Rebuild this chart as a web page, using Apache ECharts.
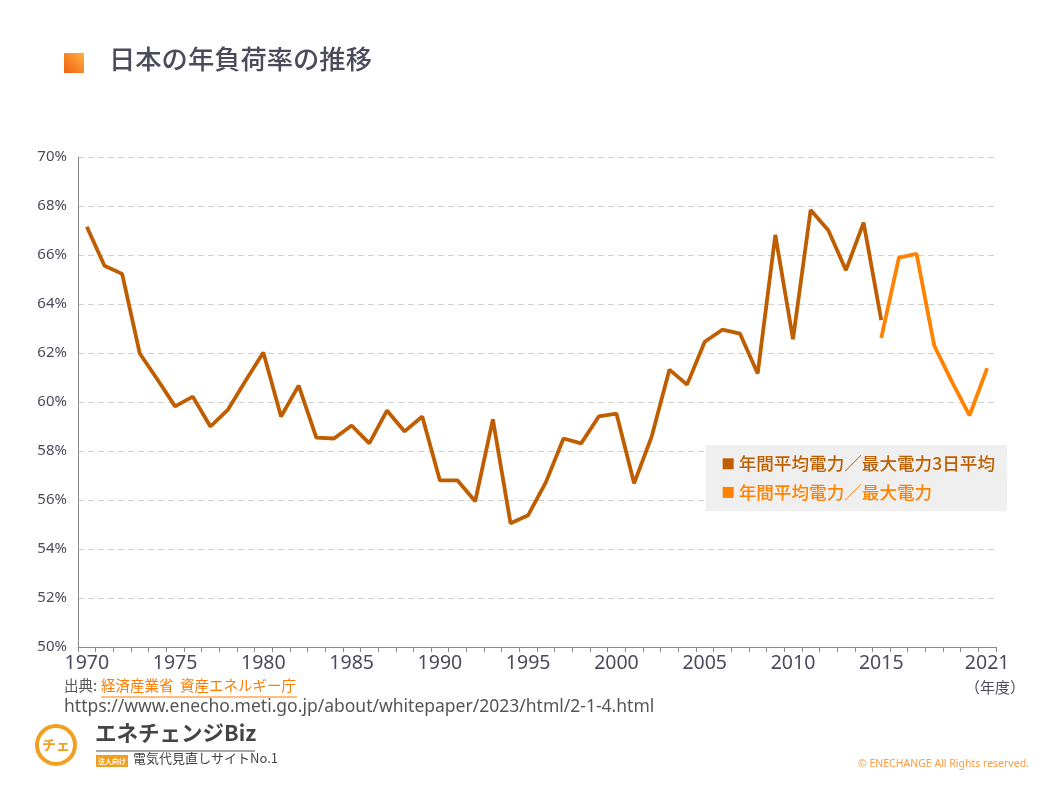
<!DOCTYPE html>
<html><head><meta charset="utf-8">
<script src="https://cdn.jsdelivr.net/npm/echarts@6/dist/echarts.min.js"></script>
<style>html,body{margin:0;padding:0;background:#fff}#c{width:1058px;height:794px}</style>
</head><body><div id="c"></div>
<script>
const years = [];
for (let y = 1970; y <= 2021; y++) years.push(String(y));
const shownLabels = ['1970','1975','1980','1985','1990','1995','2000','2005','2010','2015','2021'];
const yTicks = [50,52,54,56,58,60,62,64,66,68,70];
const loadFactor3Day = [
  67.15, 65.56, 65.23, 61.98, 60.92, 59.82, 60.22, 59.00, 59.69, 60.88,
  62.02, 59.41, 60.67, 58.55, 58.51, 59.04, 58.31, 59.65, 58.80, 59.41,
  56.80, 56.80, 55.95, 59.29, 55.05, 55.38, 56.72, 58.51, 58.31, 59.41,
  59.53, 56.68, 58.60, 61.32, 60.71, 62.46, 62.95, 62.79, 61.16, 66.82,
  62.56, 67.84, 67.01, 65.38, 67.32, 63.34,
  null, null, null, null, null, null
];
const loadFactorMax = [
  null, null, null, null, null, null, null, null, null, null,
  null, null, null, null, null, null, null, null, null, null,
  null, null, null, null, null, null, null, null, null, null,
  null, null, null, null, null, null, null, null, null, null,
  null, null, null, null, null, 62.62,
  65.89, 66.05, 62.30, 60.83, 59.45, 61.38
];
const seriesNames = ['年間平均電力／最大電力3日平均', '年間平均電力／最大電力'];
const seriesColors = ['#bf5e00', '#ff8200'];

const chart = echarts.init(document.getElementById('c'));
const txt = '#4b4b5c';
chart.setOption({
  backgroundColor: '#fff',
  animation: false,
  grid: { left: 78, right: 62, top: 157, bottom: 147 },
  legend: {
    right: 51, top: 445, orient: 'vertical', itemGap: 11,
    backgroundColor: '#efefef',
    padding: [10, 12, 10, 17],
    icon: 'rect', itemWidth: 11, itemHeight: 11,
    data: [
      { name: seriesNames[0], textStyle: { color: seriesColors[0] } },
      { name: seriesNames[1], textStyle: { color: seriesColors[1] } }
    ],
    textStyle: { fontSize: 17.6, fontFamily: 'Noto Sans CJK JP', fontWeight: 500 }
  },
  xAxis: {
    type: 'category', data: years, boundaryGap: true,
    axisLine: { lineStyle: { color: '#8a8a8a', width: 1 } },
    axisTick: { show: true, interval: 0, length: 5, lineStyle: { color: '#8a8a8a' } },
    axisLabel: {
      interval: 0, margin: 6, color: txt, fontSize: 19.5, fontFamily: 'Noto Sans',
      formatter: v => shownLabels.includes(v) ? v : ''
    },
    splitLine: { show: false }
  },
  yAxis: {
    type: 'value', min: 50, max: 70, interval: 2,
    axisLine: { show: true, lineStyle: { color: '#8a8a8a', width: 1 } },
    axisTick: { show: false },
    axisLabel: { color: txt, fontSize: 15, fontFamily: 'Noto Sans', margin: 11, formatter: v => yTicks.includes(v) ? v + '%' : '' },
    splitLine: { show: true, lineStyle: { color: '#d0d0d0', type: [6, 4], width: 1.2 } }
  },
  series: [
    { name: seriesNames[0], type: 'line', data: loadFactor3Day, showSymbol: false, symbol: 'none',
      connectNulls: false, color: seriesColors[0], lineStyle: { width: 3.8, color: seriesColors[0] } },
    { name: seriesNames[1], type: 'line', data: loadFactorMax, showSymbol: false, symbol: 'none',
      connectNulls: false, color: seriesColors[1], lineStyle: { width: 3.8, color: seriesColors[1] } }
  ],
  graphic: [
    { type: 'rect', left: 64, top: 53, shape: { width: 20, height: 20 },
      style: { fill: new echarts.graphic.LinearGradient(1, 0, 0, 1, [{ offset: 0, color: '#ffb040' }, { offset: 1, color: '#f06010' }]) } },
    { type: 'text', left: 109, top: 46, style: { text: '日本の年負荷率の推移', fill: '#4b4b5c', font: '500 26.3px "Noto Sans CJK JP"' } },
    { type: 'text', left: 965, top: 680, style: { text: '（年度）', fill: txt, font: '15px "Noto Sans CJK JP"' } },
    { type: 'text', left: 64, top: 678, style: { text: '出典:', fill: '#555', font: '14.5px "Noto Sans CJK JP"' } },
    { type: 'text', left: 101, top: 678, style: { text: '経済産業省  資産エネルギー庁', fill: '#ff7a00', font: '14.5px "Noto Sans CJK JP"' } },
    { type: 'line', shape: { x1: 101, y1: 697, x2: 297, y2: 697 }, style: { stroke: '#ff7a00', lineWidth: 1 } },
    { type: 'text', left: 64, top: 698, style: { text: 'https://www.enecho.meti.go.jp/about/whitepaper/2023/html/2-1-4.html', fill: '#555', font: '17.5px "Noto Sans"' } },
    { type: 'circle', shape: { cx: 56, cy: 745, r: 19 }, style: { fill: '#fff', stroke: '#f0a020', lineWidth: 4 } },
    { type: 'text', x: 56, y: 745, style: { text: 'チェ', fill: '#f0a020', font: 'bold 14px "Noto Sans CJK JP"', align: 'center', verticalAlign: 'middle' } },
    { type: 'text', left: 95, top: 722, style: { text: 'エネチェンジBiz', fill: '#444', font: 'bold 21.5px "Noto Sans CJK JP"' } },
    { type: 'line', shape: { x1: 96, y1: 751, x2: 255, y2: 751 }, style: { stroke: '#888', lineWidth: 1.5 } },
    { type: 'rect', left: 96, top: 755, shape: { width: 32, height: 12 }, style: { fill: '#f0a020' } },
    { type: 'text', x: 112, y: 761, style: { text: '法人向け', fill: '#fff', font: 'bold 7px "Noto Sans CJK JP"', align: 'center', verticalAlign: 'middle' } },
    { type: 'text', left: 133, top: 752, style: { text: '電気代見直しサイトNo.1', fill: '#444', font: '13px "Noto Sans CJK JP"' } },
    { type: 'text', left: 858, top: 759, style: { text: '© ENECHANGE All Rights reserved.', fill: '#ff9a40', font: '10.5px "Noto Sans"' } }
  ]
});
</script></body></html>
